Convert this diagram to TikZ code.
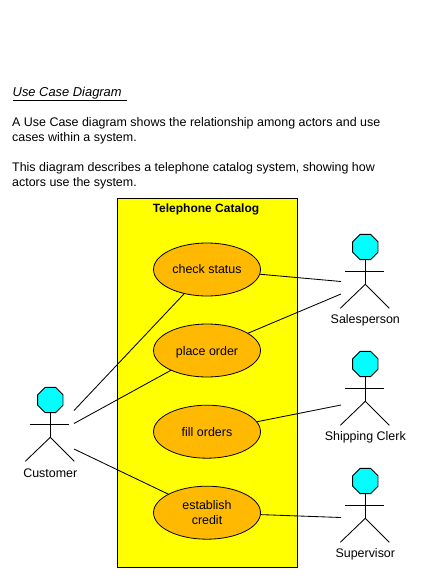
\documentclass[tikz,border=0pt]{standalone}
\usepackage{fontspec}
\setmainfont{Liberation Sans}
\usetikzlibrary{shapes.geometric}
\definecolor{sysyellow}{RGB}{255,255,0}
\definecolor{caseorange}{RGB}{255,185,0}
\definecolor{headcyan}{RGB}{0,255,255}
\tikzset{
  pix/.style={font=\fontsize{12.45}{15}\selectfont},
  sysbox/.style={draw=black,fill=sysyellow,line width=1pt,minimum width=180pt,minimum height=369.5pt,inner sep=0pt,outer sep=0pt},
  usecase/.style={ellipse,draw=black,fill=caseorange,line width=.8pt,minimum width=107pt,minimum height=53pt,inner sep=0pt,outer sep=0pt,pix,align=center},
  head/.style={regular polygon,regular polygon sides=8,draw=black,fill=headcyan,line width=.9pt,minimum size=27.4pt,inner sep=0pt,outer sep=0pt},
  assoc/.style={draw=black,line width=.85pt},
  limb/.style={draw=black,line width=.85pt},
  actorname/.style={pix,inner sep=0pt,anchor=center},
  pics/actor/.style={code={
    \node[head] (-head) at (0,-24.3) {};
    \coordinate (-hip) at (0,13);
    \coordinate (-handl) at (-20,0);
    \coordinate (-handr) at (19,0);
    \coordinate (-footl) at (-25,37);
    \coordinate (-footr) at (24,37);
    \draw[limb] (-head.south) -- (-hip);
    \draw[limb] (-handl) -- (-handr);
    \draw[limb] (-footl) -- (-hip) -- (-footr);
    \node[actorname] (-label) at (0,49.3) {#1};
  }}
}
\begin{document}
\begin{tikzpicture}[x=1pt,y=-1pt]
\useasboundingbox[fill=white] (0,0) rectangle (427,579);
\node[inner sep=0pt,anchor=base west,font=\fontsize{12.9}{15}\selectfont\itshape] (title) at (12.5,96.5) {\underline{Use Case Diagram\hspace{5.5pt}}};
\node[pix,inner sep=0pt,anchor=north west,align=left] (intro) at (12,117.5)
  {A Use Case diagram shows the relationship among actors and use\\cases within a system.\\[15pt]This diagram describes a telephone catalog system, showing how\\actors use the system.};
\node[sysbox] (system) at (207.5,382.75) {};
\node[font=\fontsize{12}{15}\selectfont\bfseries,inner sep=0pt] (systitle) at (206,209.3) {Telephone Catalog};
\node[usecase] (check) at (207,269.5) {check status};
\node[usecase,text depth=0pt] (place) at (207,350.5) {place order};
\node[usecase] (fill) at (207,431.7) {fill orders};
\node[usecase] (credit) at (207,512.7) {establish\\credit};
\pic (cust) at (50.3,424.3) {actor=Customer};
\pic (sales) at (365.3,271.3) {actor=Salesperson};
\pic (ship) at (365.3,388.3) {actor=Shipping Clerk};
\pic (sup) at (365.3,505.3) {actor=Supervisor};
\coordinate (custA) at (74,410.5);
\coordinate (custB) at (74,423.5);
\coordinate (custC) at (74,449);
\coordinate (salesA) at (341,281.5);
\coordinate (salesB) at (341,294);
\coordinate (shipA) at (341,405);
\coordinate (supA) at (341,517.5);
\draw[assoc] (custA) -- (check);
\draw[assoc] (custB) -- (place);
\draw[assoc] (custC) -- (credit);
\draw[assoc] (check) -- (salesA);
\draw[assoc] (place) -- (salesB);
\draw[assoc] (fill) -- (shipA);
\draw[assoc] (credit) -- (supA);
\end{tikzpicture}
\end{document}
